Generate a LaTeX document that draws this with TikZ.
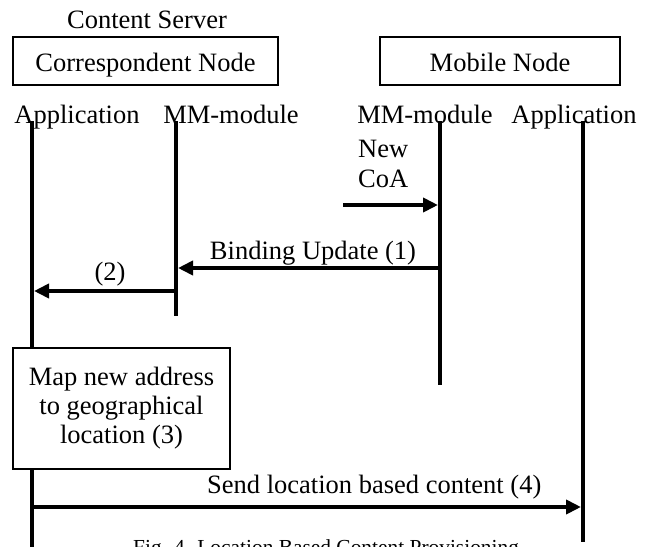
\documentclass[tikz,border=0pt]{standalone}
\usepackage{fontspec}
\setmainfont{Liberation Serif}
\usetikzlibrary{arrows.meta}
\begin{document}
\begin{tikzpicture}[x=1pt,y=-1pt,
  txt/.style={font=\fontsize{26.5}{29}\selectfont, inner sep=0pt, anchor=base},
  hdrbox/.style={draw, line width=2pt, font=\fontsize{26.5}{29}\selectfont,
    inner sep=0pt, text height=20pt, text depth=0pt, minimum height=48pt},
  mapbox/.style={draw, line width=2pt, font=\fontsize{26.5}{29}\selectfont,
    align=center, inner sep=0pt, minimum width=217pt, minimum height=121pt},
  life/.style={line width=4pt},
  msg/.style={line width=4pt, shorten >=2pt,
    -{Triangle[length=15pt,width=14pt]}},
]
\clip (0,0) rectangle (653,546);
\fill[white] (0,0) rectangle (653,546);

% Entity headers
\node[txt] (cs) at (147,28) {Content Server};
\node[hdrbox, minimum width=265pt] (cn) at (145.5,61) {Correspondent Node};
\node[hdrbox, minimum width=240pt] (mn) at (500,61) {Mobile Node};

% Lifeline labels
\node[txt] (appL) at (77,123) {Application};
\node[txt] (mmL) at (231,123) {MM-module};
\node[txt] (mmR) at (425,123) {MM-module};
\node[txt] (appR) at (574,123) {Application};

% Mapping step on the server side
\node[mapbox] (map) at (121.5,408) {Map new address\\to geographical\\location (3)};

% Lifeline end points
\coordinate (aL0) at (32,121);
\coordinate (aL1) at (32,560);
\coordinate (mL0) at (176,121);
\coordinate (mL1) at (176,316);
\coordinate (mR0) at (440,121);
\coordinate (mR1) at (440,385);
\coordinate (aR0) at (583,121);
\coordinate (aR1) at (583,542);

\draw[life] (aL0) -- (aL0 |- map.north);
\draw[life] (aL0 |- map.south) -- (aL1);
\draw[life] (mL0) -- (mL1);
\draw[life] (mR0) -- (mR1);
\draw[life] (aR0) -- (aR1);

% New care-of address
\node[txt, anchor=base west] (coa) at (358,157) {New};
\node[txt, anchor=base west] (coa2) at (358,187) {CoA};
\coordinate (coaS) at (343,205);
\draw[msg] (coaS) -- (coaS -| mR0);

% Binding update (1)
\coordinate (bu) at (440,268);
\draw[msg] (bu) -- (bu -| mL0);
\node[txt] (buL) at (313,259) {Binding Update (1)};

% Notification (2)
\coordinate (n2) at (176,291);
\draw[msg] (n2) -- (n2 -| aL0);
\node[txt] (n2L) at (110,280) {(2)};

% Content delivery (4)
\coordinate (c4) at (32,507);
\draw[msg] (c4) -- (c4 -| aR0);
\node[txt, anchor=base west] (c4L) at (207,493) {Send location based content (4)};

% Caption
\node[font=\fontsize{21.4}{24}\selectfont, inner sep=0pt, anchor=base west] (cap)
  at (133,554) {Fig. 4. Location Based Content Provisioning};
\end{tikzpicture}
\end{document}
